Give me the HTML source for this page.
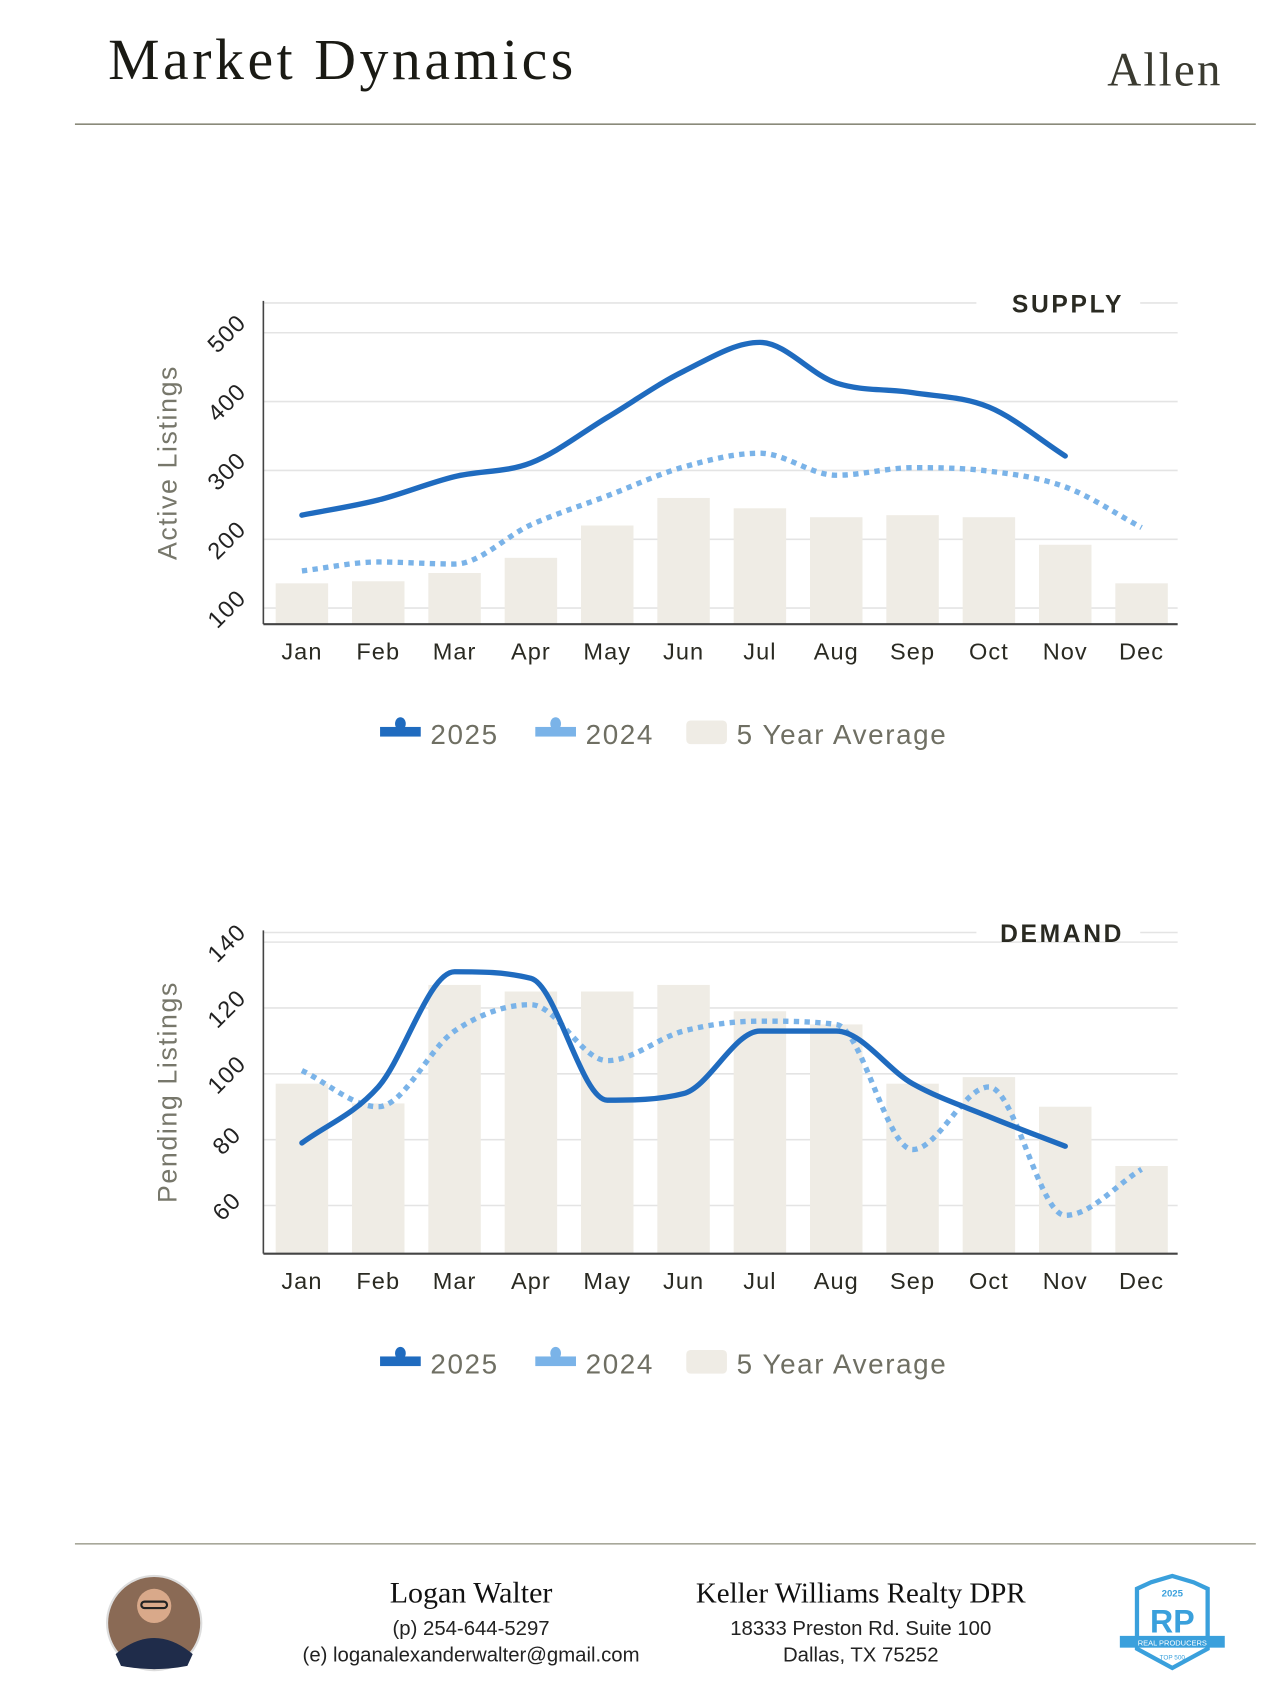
<!DOCTYPE html>
<html><head><meta charset="utf-8"><style>
html,body{margin:0;padding:0;background:#fff;width:1274px;height:1678px;overflow:hidden}
#wrap{position:absolute;left:0;top:0;width:1190px;height:1568px;transform:scale(1.0706);transform-origin:0 0}
.serif{font-family:"Liberation Serif",serif}
.sans{font-family:"Liberation Sans",sans-serif}
</style></head><body>
<div id="wrap">
<svg width="1190" height="1568" viewBox="0 0 1190 1568" xmlns="http://www.w3.org/2000/svg">
<text x="101" y="74" class="serif" font-size="54" letter-spacing="3.3" fill="#1a1a14">Market Dynamics</text>
<text x="1142" y="80" text-anchor="end" class="serif" font-size="44" letter-spacing="2" fill="#3a3a30">Allen</text>
<line x1="70" y1="116" x2="1173" y2="116" stroke="#8a8a7a" stroke-width="1.5"/>
<g id="supply"></g>
<g id="demand"></g>
<line x1="70" y1="1442" x2="1173" y2="1442" stroke="#a8a89a" stroke-width="1.5"/>
<g>
<circle cx="144" cy="1516" r="44" fill="#8a6a55" stroke="#ddd" stroke-width="2"/>
<path d="M108 1545 Q144 1515 180 1545 L175 1556 Q144 1562 113 1556Z" fill="#1f2c4a"/>
<circle cx="144" cy="1500" r="16" fill="#d9a98a"/>
<rect x="132" y="1496" width="24" height="6" rx="3" fill="none" stroke="#222" stroke-width="2"/>
</g>
<text x="440" y="1497" text-anchor="middle" class="serif" font-size="28" fill="#111">Logan Walter</text>
<text x="440" y="1527" text-anchor="middle" class="sans" font-size="19" fill="#222">(p) 254-644-5297</text>
<text x="440" y="1552" text-anchor="middle" class="sans" font-size="19" fill="#222">(e) loganalexanderwalter@gmail.com</text>
<text x="804" y="1497" text-anchor="middle" class="serif" font-size="27" fill="#111">Keller Williams Realty DPR</text>
<text x="804" y="1527" text-anchor="middle" class="sans" font-size="19" fill="#222">18333 Preston Rd. Suite 100</text>
<text x="804" y="1552" text-anchor="middle" class="sans" font-size="19" fill="#222">Dallas, TX 75252</text>
<g>
<path d="M1075 1478 L1095 1472 L1115 1478 L1128 1484 L1128 1540 L1095 1558 L1062 1540 L1062 1484Z" fill="#fff" stroke="#3aa0dc" stroke-width="4"/>
<text x="1095" y="1491" text-anchor="middle" class="sans" font-size="9" font-weight="bold" fill="#3aa0dc">2025</text>
<text x="1095" y="1525" text-anchor="middle" class="sans" font-size="30" font-weight="bold" fill="#3aa0dc">RP</text>
<rect x="1046" y="1528" width="98" height="11" fill="#3aa0dc"/>
<text x="1095" y="1537" text-anchor="middle" class="sans" font-size="7" fill="#fff">REAL PRODUCERS</text>
<text x="1095" y="1550" text-anchor="middle" class="sans" font-size="6" fill="#3aa0dc">TOP 500</text>
</g>
</svg>
</div>
<script>
const months=["Jan","Feb","Mar","Apr","May","Jun","Jul","Aug","Sep","Oct","Nov","Dec"];
const supply2025=[235,257,291,311,377,444,486,427,413,392,321];
const supply2024=[154,167,164,221,263,305,325,293,304,299,276,217];
const supplyAvg=[136,139,151,173,220,260,245,232,235,232,192,136];
const supplyTicks=[100,200,300,400,500];
const demand2025=[79,96,131,129,92,94,113,113,97,87,78];
const demand2024=[101,90,113,121,104,113,116,115,77,96,57,71];
const demandAvg=[97,91,127,125,125,127,119,115,97,99,90,72];
const demandTicks=[60,80,100,120,140];
const NS="http://www.w3.org/2000/svg";
function mk(tag,attrs,parent){const e=document.createElementNS(NS,tag);for(const k in attrs)e.setAttribute(k,attrs[k]);parent.appendChild(e);return e;}
function monoPath(pts){
  const n=pts.length;if(n<2)return "";
  const d=[],m=[];
  for(let i=0;i<n-1;i++)d.push((pts[i+1][1]-pts[i][1])/(pts[i+1][0]-pts[i][0]));
  m[0]=d[0];m[n-1]=d[n-2];
  for(let i=1;i<n-1;i++){if(d[i-1]*d[i]<=0)m[i]=0;else{m[i]=(d[i-1]+d[i])/2;}
    m[i]=Math.sign(m[i])*Math.min(Math.abs(m[i]),3*Math.abs(d[i-1]),3*Math.abs(d[i]));}
  let p="M"+pts[0][0]+","+pts[0][1];
  for(let i=0;i<n-1;i++){const h=(pts[i+1][0]-pts[i][0])/3;
    p+=" C"+(pts[i][0]+h)+","+(pts[i][1]+m[i]*h)+" "+(pts[i+1][0]-h)+","+(pts[i+1][1]-m[i+1]*h)+" "+pts[i+1][0]+","+pts[i+1][1];}
  return p;
}
function chart(g,cfg){
  const x0=246,x1=1100,step=71.3,cx0=282;
  const xs=i=>cx0+i*step;
  const ys=v=>cfg.yRef-(v-cfg.vRef)*cfg.k;
  cfg.ticks.forEach(t=>{
    const l=mk("line",{x1:x0,x2:x1,y1:ys(t),y2:ys(t),stroke:"#e4e4e4","stroke-width":1.5},g);
    
    
    const tx=mk("text",{x:0,y:0,transform:"translate("+(cfg.tickX)+","+(ys(t)+6)+") rotate(-45)","text-anchor":"middle","font-family":"Liberation Sans, sans-serif","font-size":22,fill:"#222","letter-spacing":"1"},g);
    tx.textContent=t;
    
    
  });
  const top=mk("line",{x1:x0,x2:912,y1:cfg.top,y2:cfg.top,stroke:"#e4e4e4","stroke-width":1.5},g);
  
  
  const top2=mk("line",{x1:1065,x2:x1,y1:cfg.top,y2:cfg.top,stroke:"#e4e4e4","stroke-width":1.5},g);
  
  
  const ttl=mk("text",{x:1050,y:cfg.top+9,"text-anchor":"end","font-family":"Liberation Sans, sans-serif","font-size":23,"font-weight":"bold","letter-spacing":"2.5",fill:"#2a2a22"},g);
  ttl.textContent=cfg.label;
  
  
  cfg.avg.forEach((v,i)=>{
    const r=mk("rect",{x:xs(i)-24.5,y:ys(v),width:49,height:cfg.axisY-ys(v),fill:"#efece5"},g);
    
    
  });
  const ya=mk("line",{x1:x0,x2:x0,y1:cfg.top-2,y2:cfg.axisY,stroke:"#444","stroke-width":1.5},g);
  
  
  const xa=mk("line",{x1:x0,x2:x1,y1:cfg.axisY,y2:cfg.axisY,stroke:"#444","stroke-width":2},g);
  
  
  months.forEach((m,i)=>{
    const t=mk("text",{x:xs(i),y:cfg.axisY+33,"text-anchor":"middle","font-family":"Liberation Sans, sans-serif","font-size":22,fill:"#2a2a22","letter-spacing":"1"},g);
    t.textContent=m;
    
    
  });
  const yt=mk("text",{x:0,y:0,transform:"translate(165,"+cfg.titleY+") rotate(-90)","text-anchor":"middle","font-family":"Liberation Sans, sans-serif","font-size":25,fill:"#77776b","letter-spacing":"1.5"},g);
  yt.textContent=cfg.ytitle;
  
  
  const p24=mk("path",{d:monoPath(cfg.s24.map((v,i)=>[xs(i),ys(v)])),fill:"none",stroke:"#7ab3e8","stroke-width":5,"stroke-dasharray":"5 5"},g);
  
  
  const p25=mk("path",{d:monoPath(cfg.s25.map((v,i)=>[xs(i),ys(v)])),fill:"none",stroke:"#1f6bbf","stroke-width":5,"stroke-linecap":"round"},g);
  
  
  const ly=cfg.legendY;
  const items=[["2025","#1f6bbf",355,402],["2024","#7ab3e8",500,547]];
  items.forEach(it=>{
    const lg=mk("g",{},g);
    
    
    mk("rect",{x:it[2],y:ly-6,width:38,height:9,fill:it[1]},lg);
    mk("ellipse",{cx:it[2]+19,cy:ly-9,rx:5,ry:6,fill:it[1]},lg);
    const t=mk("text",{x:it[3],y:ly+10,"font-family":"Liberation Sans, sans-serif","font-size":26,fill:"#6f6f63","letter-spacing":"1.5"},lg);
    t.textContent=it[0];
  });
  const la=mk("g",{},g);
  
  
  mk("rect",{x:641,y:ly-12,width:38,height:22,rx:4,fill:"#efece5"},la);
  const t=mk("text",{x:688,y:ly+10,"font-family":"Liberation Sans, sans-serif","font-size":26,fill:"#6f6f63","letter-spacing":"1.5"},la);
  t.textContent="5 Year Average";
}
chart(document.getElementById("supply"),{yRef:568,vRef:100,k:0.643,ticks:supplyTicks,tickX:217,top:283,axisY:583,label:"SUPPLY",avg:supplyAvg,s24:supply2024,s25:supply2025,ytitle:"Active Listings",titleY:432,legendY:685});
chart(document.getElementById("demand"),{yRef:1126,vRef:60,k:3.075,ticks:demandTicks,tickX:217,top:871,axisY:1171,label:"DEMAND",avg:demandAvg,s24:demand2024,s25:demand2025,ytitle:"Pending Listings",titleY:1020,legendY:1273});
</script>
</body></html>
